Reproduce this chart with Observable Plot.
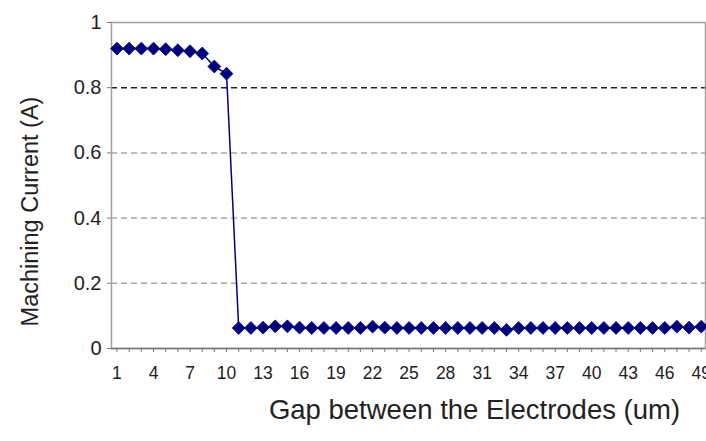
<!DOCTYPE html>
<html>
<head>
<meta charset="utf-8">
<script src="https://cdn.jsdelivr.net/npm/d3@7"></script>
<script src="https://cdn.jsdelivr.net/npm/@observablehq/plot@0.6"></script>
<style>
  html, body { margin: 0; padding: 0; background: #fff; }
  #chart svg { display: block; font-family: "Liberation Sans", Arial, sans-serif; }
</style>
</head>
<body>
<div id="chart"></div>
<script>
const gaps = [1,2,3,4,5,6,7,8,9,10,11,12,13,14,15,16,17,18,19,20,21,22,23,24,25,26,27,28,29,30,31,32,33,34,35,36,37,38,39,40,41,42,43,44,45,46,47,48,49];
const currents = [0.92,0.92,0.92,0.92,0.918,0.915,0.912,0.905,0.865,0.843,
  0.063,0.063,0.064,0.068,0.068,0.064,0.063,0.063,0.063,0.063,0.063,0.067,0.064,0.063,0.063,0.063,0.063,0.063,0.063,0.063,0.063,0.063,0.057,0.063,0.063,0.063,0.063,0.063,0.063,0.063,0.063,0.063,0.063,0.063,0.063,0.063,0.067,0.064,0.067];
const xTickLabels = [1,4,7,10,13,16,19,22,25,28,31,34,37,40,43,46,49];
const yTicks = [0,0.2,0.4,0.6,0.8,1];
const gridLight = [0.2,0.4,0.6];
const gridDark = [0.8];
const xTitle = "Gap between the Electrodes (um)";
const yTitle = "Machining Current (A)";

const data = gaps.map((g, i) => ({gap: g, current: currents[i]}));
const navy = "#00007f";

const chart = Plot.plot({
  width: 706,
  height: 441,
  marginLeft: 111,
  marginRight: 1,
  marginTop: 22,
  marginBottom: 93,
  style: {fontFamily: "Liberation Sans, Arial, sans-serif", background: "#fff"},
  x: {domain: [0.55, 49.35]},
  y: {domain: [0, 1]},
  marks: [
    Plot.ruleY(gridLight, {stroke: "#a8a8a8", strokeWidth: 1.5, strokeDasharray: "6,4"}),
    Plot.ruleY(gridDark, {stroke: "#222", strokeWidth: 1.6, strokeDasharray: "6,4"}),
    Plot.frame({stroke: "#a0a0a0", strokeWidth: 1.5}),
    Plot.axisY({ticks: yTicks, tickFormat: d => String(d), tickSize: 4, tickPadding: 6, fontSize: 20, color: "#222", label: null, stroke: "#777"}),
    Plot.axisX({ticks: gaps, tickFormat: () => "", tickSize: 4, label: null, stroke: "#777"}),
    Plot.axisX({ticks: xTickLabels, tickFormat: d => String(d), tickSize: 0, tickPadding: 18, fontSize: 17.5, color: "#222", label: null}),
    Plot.ruleY([0], {stroke: "#777", strokeWidth: 1.5}),
    Plot.line(data, {x: "gap", y: "current", stroke: navy, strokeWidth: 1.5}),
    Plot.dot(data, {x: "gap", y: "current", symbol: "diamond2", r: 5.8, fill: navy, stroke: navy, strokeWidth: 0.8}),
    Plot.text([xTitle], {text: d => d, frameAnchor: "bottom", dx: 66, dy: 70, fontSize: 27.5, fill: "#222", textAnchor: "middle"}),
    Plot.text([yTitle], {text: d => d, frameAnchor: "left", dx: -81, dy: 26, rotate: -90, fontSize: 23.5, fill: "#222", textAnchor: "middle"})
  ]
});
document.getElementById("chart").appendChild(chart);
</script>
</body>
</html>
